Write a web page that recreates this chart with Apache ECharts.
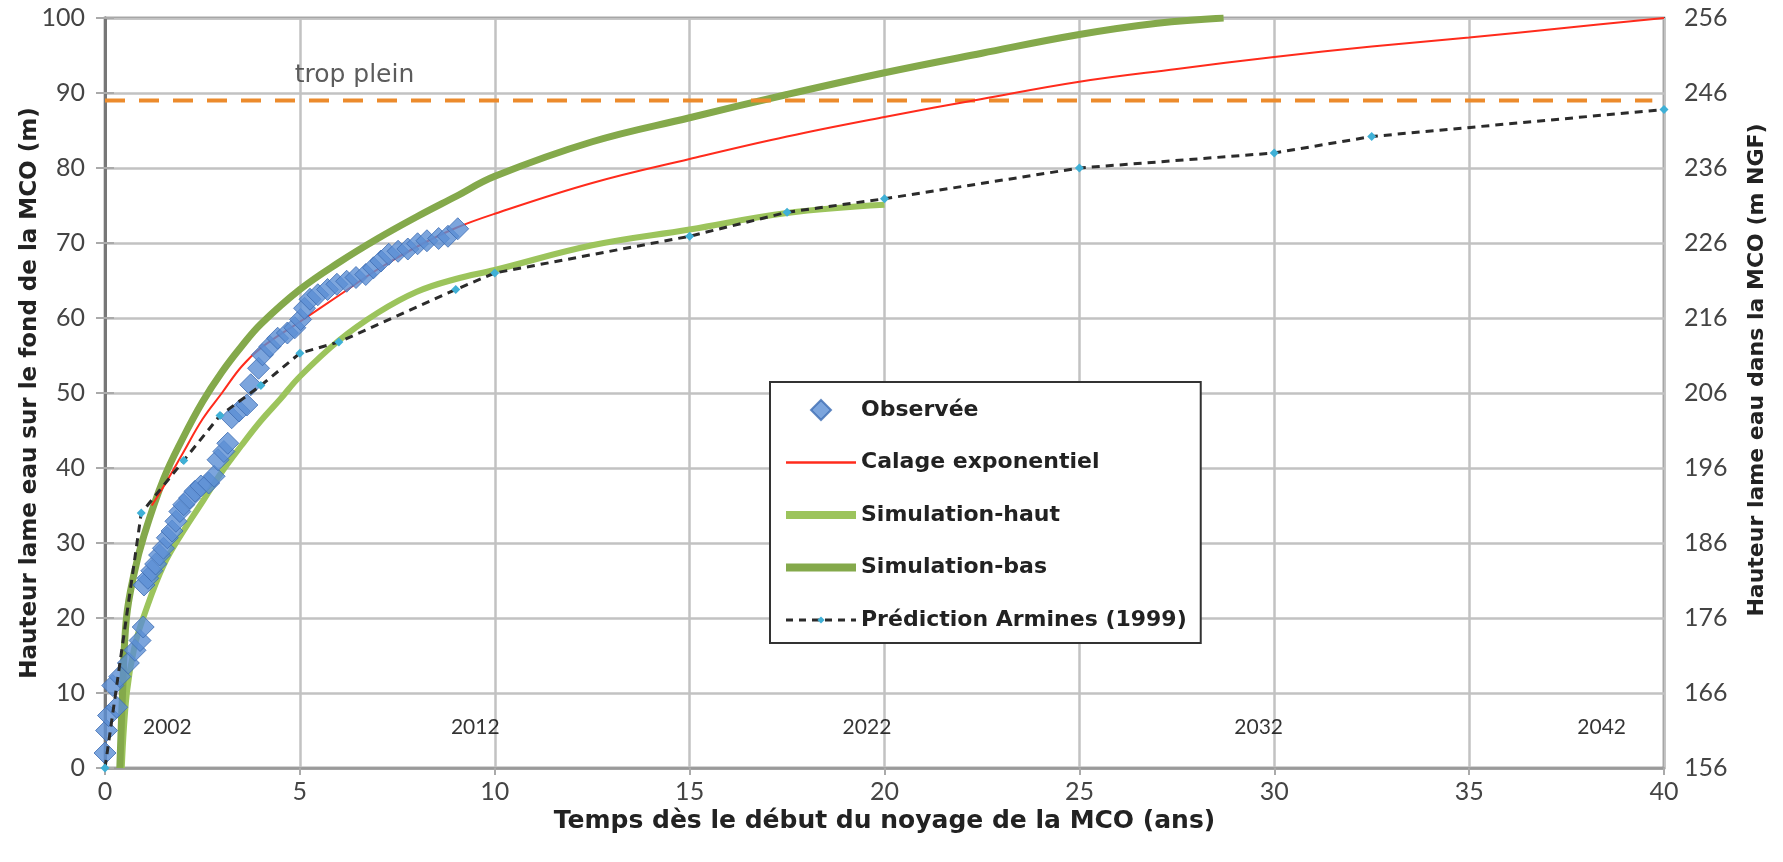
<!DOCTYPE html>
<html><head><meta charset="utf-8">
<script src="https://cdn.jsdelivr.net/npm/echarts@6/dist/echarts.min.js"></script>
<style>html,body{margin:0;padding:0;background:#fff}#chart{width:1783px;height:862px}</style>
</head><body><div id="chart"></div>
<script>
// ---- data ----
const observed = [[0,2],[0.04,5],[0.09,7],[0.3,8.1],[0.2,11],[0.38,12.2],[0.6,14],[0.77,15.7],[0.9,17],[0.98,18.8],
  [1.0,24.4],[1.1,25.3],[1.2,26.3],[1.3,27.2],[1.4,28.4],[1.5,29.3],[1.6,30.7],[1.72,31.6],[1.82,32.9],[1.92,34.2],
  [2.02,35.1],[2.17,36],[2.31,36.9],[2.46,37.6],[2.66,38],[2.8,38.9],[2.9,41.1],[3.05,42.2],[3.15,43.3],[3.25,46.7],
  [3.44,47.6],[3.64,48.4],[3.74,51.1],[3.94,53.3],[4.04,55.1],[4.23,56.2],[4.43,57.3],[4.68,58],[4.87,58.7],[5.02,59.8],
  [5.12,61.3],[5.26,62.5],[5.46,63.1],[5.71,63.8],[5.95,64.5],[6.2,64.9],[6.44,65.4],[6.69,65.8],[6.89,66.7],[7.08,67.6],
  [7.28,68.5],[7.52,68.9],[7.77,69.2],[8.02,69.9],[8.26,70.3],[8.56,70.6],[8.8,70.9],[9.05,71.9]];
const calageExponentiel = [[1.2,35],[1.5,37.5],[2,42],[2.5,46.5],[3,50],[3.5,53.5],[4,56],[5,59.5],[6,63],[7,66.5],
  [8,69.5],[9,72],[10,73.9],[12.5,78],[15,81.2],[17.5,84.2],[20,86.8],[22.5,89.2],[25,91.5],[27.5,93.2],[30,94.8],
  [32.5,96.2],[35,97.4],[37.5,98.7],[40,100]];
const simulationHaut = [[0.43,0],[0.56,10],[0.75,16],[1.0,20.3],[1.5,27],[2.0,31.5],[2.5,35.5],[3,39.5],[3.5,43],
  [4,46.3],[4.5,49.2],[5,52.2],[6,57],[7,60.7],[8,63.5],[9,65.2],[10,66.4],[12.5,69.7],[15,71.8],[17.5,74],[20,75.1]];
const simulationBas = [[0.38,0],[0.45,10],[0.55,20],[0.75,26],[1.0,31],[1.5,38.5],[2.0,44],[2.5,48.8],[3,52.8],
  [3.5,56.2],[4,59.2],[5,63.8],[6,67.4],[7,70.6],[8,73.5],[9,76.2],[10,78.9],[12.5,83.5],[15,86.7],[17.5,89.8],
  [20,92.7],[22.5,95.3],[25,97.8],[27,99.3],[28.7,100]];
const predictionArmines = [[0,0],[0.93,34],[2.02,41],[2.95,47],[4,51],[5,55.3],[6,56.8],[9,63.8],[10,66],[15,70.9],
  [17.5,74.1],[20,75.9],[25,80],[30,82],[32.5,84.2],[40,87.8]];
const tropPleinLevel = 89;
const tropPleinLabel = 'trop plein';
const tropPleinLabelPos = [6.4, 92.3];
const yearLabels = ['2002','2012','2022','2032','2042'];
const yearLabelX = [1.6, 9.5, 19.55, 29.6, 38.4];
const yearLabelY = 5.5;
const xMin = 0, xMax = 40, xStep = 5;
const yMin = 0, yMax = 100, yStep = 10;
const ngfMin = 156, ngfMax = 256, ngfStep = 10;
const seriesNames = ['Observée','Calage exponentiel','Simulation-haut','Simulation-bas','Prédiction Armines (1999)'];

const FONT = 'Lato, "Open Sans", sans-serif';
const WIDE = '"DejaVu Sans", Verdana, sans-serif';
// small diamond drawn inside a larger (empty) box so that the legend marker stays small
const smallDiamond = 'path://M0,0L0,0M20,20L20,20M10,5.5L14.5,10L10,14.5L5.5,10Z';
// legend icon: a square diamond centred in a 70x20 box
const legendDiamond = 'path://M0,10L0,10M70,10L70,10M35,0L45,10L35,20L25,10Z';

const chart = echarts.init(document.getElementById('chart'), null, {renderer:'canvas'});

const annotations = yearLabels.map((t,i)=>({value:[yearLabelX[i], yearLabelY], label:{formatter:t}}));
annotations.push({value:tropPleinLabelPos, label:{formatter:tropPleinLabel, fontFamily:WIDE, fontSize:25, color:'#333'}});

chart.setOption({
  animation:false,
  backgroundColor:'#fff',
  grid:{left:105, right:119, top:18, bottom:94, show:true, borderColor:'#555', borderWidth:2.5},
  xAxis:{type:'value', min:xMin, max:xMax, interval:xStep,
    name:'Temps dès le début du noyage de la MCO (ans)', nameLocation:'middle', nameGap:36,
    nameTextStyle:{fontFamily:WIDE, fontWeight:'bold', fontSize:25, color:'#222'},
    axisLine:{show:true, onZero:false, lineStyle:{color:'#999', width:2.5}},
    axisTick:{show:true, length:7, lineStyle:{color:'#aaa', width:2}},
    axisLabel:{fontFamily:FONT, fontSize:25, color:'#444', margin:11},
    splitLine:{show:true, lineStyle:{color:'#c2c2c2', width:2.5}}},
  yAxis:[{type:'value', min:yMin, max:yMax, interval:yStep, position:'left',
    name:'Hauteur lame eau sur le fond de la MCO (m)', nameLocation:'middle', nameGap:63, nameRotate:90,
    nameMoveOverlap:false,
    nameTextStyle:{fontFamily:WIDE, fontWeight:'bold', fontSize:23, color:'#222'},
    axisLine:{show:true, onZero:false, lineStyle:{color:'#999', width:2.5}},
    axisTick:{show:true, length:9, lineStyle:{color:'#aaa', width:2}},
    axisLabel:{fontFamily:FONT, fontSize:25, color:'#444', margin:20},
    splitLine:{show:true, lineStyle:{color:'#c2c2c2', width:2.5}}},
   {type:'value', min:ngfMin, max:ngfMax, interval:ngfStep, position:'right',
    name:'Hauteur lame eau dans la MCO (m NGF)', nameLocation:'middle', nameGap:82, nameRotate:90,
    nameTextStyle:{fontFamily:WIDE, fontWeight:'bold', fontSize:22, color:'#222', padding:[0,0,0,46]},
    axisLine:{show:true, lineStyle:{color:'#777', width:3}},
    axisTick:{show:true, length:9, lineStyle:{color:'#aaa', width:2}},
    axisLabel:{fontFamily:FONT, fontSize:25, color:'#444', margin:20},
    splitLine:{show:false}}],
  legend:{show:true, orient:'vertical', left:770, top:382, padding:[17,14,12,12],
    itemWidth:70, itemHeight:20, itemGap:30.5,
    borderColor:'#333', borderWidth:2, backgroundColor:'#fff',
    textStyle:{fontFamily:WIDE, fontWeight:'bold', fontSize:22, color:'#222', lineHeight:22},
    data:[
      {name:seriesNames[0], icon:legendDiamond},
      {name:seriesNames[1], itemStyle:{opacity:0}, lineStyle:{width:2.5}},
      {name:seriesNames[2], itemStyle:{opacity:0}, lineStyle:{width:8}},
      {name:seriesNames[3], itemStyle:{opacity:0}, lineStyle:{width:8}},
      {name:seriesNames[4], lineStyle:{width:3, type:[7,6]}}
    ]},
  series:[
    {name:'Simulation-haut', type:'line', data:simulationHaut, smooth:0.4, showSymbol:false, symbol:'none',
      lineStyle:{color:'#9cc45c', width:6}, itemStyle:{color:'#9cc45c'}, z:2},
    {name:'Simulation-bas', type:'line', data:simulationBas, smooth:0.4, showSymbol:false, symbol:'none',
      lineStyle:{color:'#84a94b', width:7}, itemStyle:{color:'#84a94b'}, z:2},
    {name:'trop plein line', type:'line', data:[[xMin,tropPleinLevel],[xMax-0.3,tropPleinLevel]], symbol:'none',
      lineStyle:{color:'#ec8b2c', width:4, type:[20,14]}, z:3, silent:true},
    {name:'Calage exponentiel', type:'line', data:calageExponentiel, smooth:0.4, showSymbol:false, symbol:'none',
      lineStyle:{color:'#ff2b1c', width:2}, itemStyle:{color:'#ff2b1c'}, z:3},
    {name:'Observée', type:'scatter', data:observed, symbol:'diamond', symbolSize:22,
      itemStyle:{color:'#5b8fd5', borderColor:'#3d6db3', borderWidth:1}, z:4},
    {name:'Prédiction Armines (1999)', type:'line', data:predictionArmines, symbol:smallDiamond, symbolSize:20, showSymbol:true,
      lineStyle:{color:'#2b2b2b', width:3, type:[8,6]}, itemStyle:{color:'#3fb0d6'}, z:5},
    {name:'annotations', type:'scatter', data:annotations, symbolSize:0, silent:true, z:6,
      label:{show:true, position:'inside', fontFamily:FONT, fontSize:21, color:'#000'}}
  ]
});
</script></body></html>
